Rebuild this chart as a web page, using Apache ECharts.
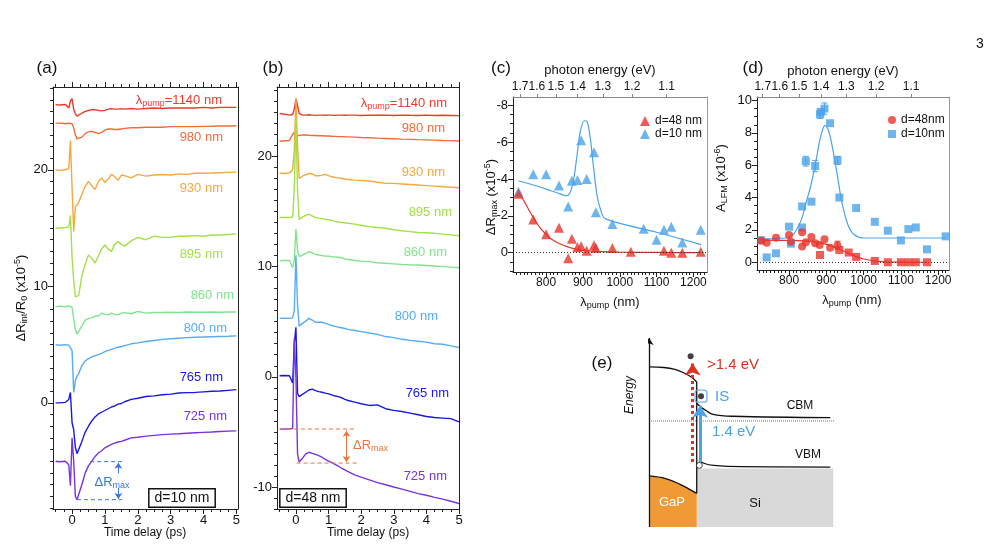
<!DOCTYPE html>
<html>
<head>
<meta charset="utf-8">
<script src="https://cdn.jsdelivr.net/npm/echarts@6.0.0/dist/echarts.min.js"></script>
<style>
  html, body { margin: 0; padding: 0; background: #fff; }
  #chart { width: 994px; height: 556px; }
</style>
</head>
<body>
<div id="chart"></div>
<script>
// ---- time delay traces, panels (a) and (b) ----
const T = [-0.5, -0.4, -0.2, -0.1, -0.05, 0, 0.05, 0.1, 0.15, 0.2, 0.3, 0.4, 0.5, 0.6, 0.7, 0.8, 0.9, 1.0, 1.1, 1.2,
  1.3, 1.4, 1.5, 1.6, 1.8, 2.0, 2.25, 2.5, 2.75, 3.0, 3.25, 3.5, 3.75, 4.0, 4.25, 4.5, 4.75, 5.0];

const A1140 = [25.6, 25.55, 25.6, 25.3, 25.9, 26.1, 25.2, 24.8, 24.6, 24.6, 24.85, 25.0, 25.1, 25.15, 25.15, 25.1, 25.05, 25.1, 25.2, 25.25,
  25.2, 25.2, 25.25, 25.2, 25.25, 25.2, 25.25, 25.3, 25.25, 25.3, 25.3, 25.3, 25.3, 25.35, 25.3, 25.35, 25.35, 25.35];
const A980 = [24.0, 24.0, 23.95, 24.0, 24.0, 23.95, 23.6, 23.0, 22.65, 22.57, 22.8, 23.1, 23.25, 23.3, 23.2, 23.1, 23.2, 23.4, 23.5, 23.5,
  23.45, 23.45, 23.5, 23.55, 23.6, 23.6, 23.65, 23.65, 23.65, 23.7, 23.7, 23.7, 23.7, 23.72, 23.73, 23.75, 23.75, 23.77];
const A930 = [20.0, 19.95, 20.0, 20.1, 22.5, 18.5, 14.7, 16.8, 16.9, 17.2, 17.9, 18.6, 19.0, 18.6, 18.3, 19.0, 19.3, 18.9, 19.2, 19.6,
  19.4, 19.1, 19.55, 19.5, 19.3, 19.6, 19.45, 19.55, 19.6, 19.55, 19.65, 19.6, 19.7, 19.7, 19.72, 19.75, 19.78, 19.8];
const A895 = [15.0, 15.0, 15.05, 15.1, 16.1, 12.5, 10.5, 9.1, 9.0, 9.2, 10.9, 11.9, 12.7, 12.4, 12.0, 12.6, 13.2, 13.55, 13.2, 13.0,
  13.6, 13.85, 13.6, 13.45, 13.9, 14.2, 14.0, 14.3, 14.2, 14.2, 14.3, 14.3, 14.35, 14.3, 14.4, 14.4, 14.45, 14.5];
const A860 = [8.25, 8.3, 8.25, 8.35, 8.4, 8.2, 7.2, 6.3, 5.9, 5.9, 6.6, 7.1, 7.25, 7.3, 7.45, 7.45, 7.7, 7.6, 7.55, 7.7,
  7.6, 7.55, 7.7, 7.75, 7.65, 7.85, 7.7, 7.75, 7.75, 7.78, 7.75, 7.8, 7.78, 7.78, 7.8, 7.78, 7.8, 7.8];
const A800 = [5.0, 4.95, 5.0, 4.95, 4.95, 4.5, 0.9, 1.9, 2.3, 2.5, 3.2, 3.6, 3.8, 3.95, 4.05, 4.15, 4.25, 4.4, 4.5, 4.6,
  4.7, 4.78, 4.84, 4.92, 5.07, 5.15, 5.27, 5.35, 5.45, 5.5, 5.55, 5.6, 5.63, 5.66, 5.68, 5.7, 5.72, 5.75];
const A765 = [0.0, 0.0, 0.05, 0.3, 0.9, -1.7, -2.3, -3.8, -4.35, -4.3, -3.3, -2.5, -2.0, -1.55, -1.2, -0.95, -0.8, -0.65, -0.5, -0.35,
  -0.25, -0.1, -0.05, 0.1, 0.3, 0.4, 0.55, 0.6, 0.7, 0.75, 0.85, 0.88, 0.9, 0.95, 1.0, 1.02, 1.08, 1.14];
const A725 = [-5.0, -5.05, -5.0, -5.3, -7.1, -3.0, -5.0, -8.0, -8.3, -8.3, -7.0, -6.0, -5.4, -5.0, -4.6, -4.3, -4.1, -3.85, -3.7, -3.55,
  -3.45, -3.35, -3.3, -3.2, -3.0, -2.95, -2.85, -2.78, -2.72, -2.68, -2.65, -2.6, -2.56, -2.53, -2.5, -2.45, -2.42, -2.4];

const B1140 = [23.9, 23.85, 23.75, 23.8, 24.3, 25.25, 24.6, 23.9, 23.75, 23.75, 23.75, 23.78, 23.75, 23.72, 23.75, 23.75, 23.73, 23.75, 23.75, 23.72,
  23.75, 23.75, 23.73, 23.75, 23.75, 23.72, 23.75, 23.73, 23.75, 23.72, 23.75, 23.73, 23.72, 23.75, 23.72, 23.73, 23.72, 23.7];
const B980 = [21.4, 21.4, 21.45, 22.0, 22.2, 21.9, 21.85, 21.9, 21.9, 21.95, 21.95, 21.92, 21.9, 21.9, 21.88, 21.87, 21.85, 21.85, 21.83, 21.82,
  21.8, 21.8, 21.78, 21.77, 21.75, 21.72, 21.7, 21.66, 21.63, 21.6, 21.57, 21.55, 21.52, 21.5, 21.48, 21.45, 21.43, 21.4];
const B930 = [18.5, 18.45, 18.5, 18.8, 20.5, 25.2, 21.0, 18.0, 18.1, 18.2, 18.35, 18.45, 18.4, 18.25, 18.25, 18.3, 18.37, 18.25, 18.15, 18.1,
  18.05, 18.0, 17.95, 17.9, 17.85, 17.82, 17.77, 17.65, 17.55, 17.55, 17.5, 17.45, 17.4, 17.35, 17.3, 17.25, 17.2, 17.16];
const B895 = [14.45, 14.45, 14.45, 14.5, 17.0, 23.5, 17.0, 14.25, 14.3, 14.5, 14.65, 14.75, 14.6, 14.45, 14.4, 14.35, 14.3, 14.25, 14.2, 14.1,
  14.05, 14.0, 13.98, 13.93, 13.85, 13.75, 13.63, 13.55, 13.48, 13.35, 13.25, 13.17, 13.1, 13.07, 13.02, 12.95, 12.88, 12.8];
const B860 = [10.5, 10.55, 10.55, 9.9, 10.6, 13.4, 11.5, 10.9, 10.95, 11.05, 11.2, 11.35, 11.25, 11.1, 11.05, 11.0, 10.95, 10.95, 10.9, 10.88,
  10.85, 10.8, 10.7, 10.65, 10.55, 10.5, 10.45, 10.35, 10.3, 10.25, 10.2, 10.17, 10.15, 10.1, 10.05, 10.0, 9.95, 9.9];
const B800 = [5.3, 5.32, 5.3, 5.35, 6.0, 11.0, 6.5, 4.6, 4.7, 4.85, 5.05, 5.3, 5.15, 4.95, 4.95, 4.95, 4.85, 4.75, 4.65, 4.58,
  4.5, 4.45, 4.38, 4.3, 4.2, 4.1, 3.97, 3.85, 3.65, 3.55, 3.4, 3.3, 3.22, 3.15, 3.0, 2.95, 2.8, 2.66];
const B765 = [0.1, 0.12, 0.1, -0.55, 3.0, 4.5, -1.5, -1.8, -1.7, -1.6, -1.4, -1.2, -1.12, -1.25, -1.35, -1.4, -1.48, -1.55, -1.65, -1.75,
  -1.8, -1.9, -2.05, -2.15, -2.3, -2.45, -2.6, -2.55, -2.9, -3.05, -3.15, -3.3, -3.45, -3.6, -3.7, -3.75, -3.8, -4.1];
const B725 = [-4.75, -4.75, -4.72, -4.7, 3.5, 0.0, -7.0, -7.75, -7.6, -7.4, -7.0, -6.85, -6.95, -7.05, -7.15, -7.3, -7.5, -7.65, -7.8, -7.95,
  -8.1, -8.3, -8.45, -8.6, -8.9, -9.1, -9.35, -9.6, -9.8, -10.0, -10.2, -10.4, -10.6, -10.75, -10.95, -11.1, -11.3, -11.5];

const PUMP_NM = ['1140', '980', '930', '895', '860', '800', '765', '725'];

// Delta R_max markers: [baseline, minimum]
const A_DRMAX = [-5.04, -8.3];
const B_DRMAX = [-4.74, -7.83];

// ---- panel (c): Delta R_max vs pump wavelength ----
const LAM_C48 = [725, 765, 800, 835, 860, 870, 885, 895, 910, 930, 935, 980, 1030, 1120, 1140, 1170, 1220];
const DR_C48 = [-3.2, -1.8, -1.0, -1.35, 0.3, -0.75, -0.3, -0.35, -0.1, -0.4, -0.25, -0.25, -0.05, -0.1, 0.0, 0.0, -0.05];
const LAM_C10 = [725, 765, 800, 835, 860, 870, 885, 895, 910, 930, 935, 980, 1065, 1100, 1120, 1140, 1170, 1220];
const DR_C10 = [-3.3, -4.25, -4.25, -3.65, -2.5, -3.9, -3.95, -6.1, -4.0, -5.45, -2.2, -1.55, -1.3, -0.7, -1.25, -1.4, -0.55, -1.25];
const FIT_C48_L = [725, 740, 755, 770, 785, 800, 811, 830, 847, 865, 883, 910, 937, 1000, 1100, 1220];
const FIT_C48_V = [-3.27, -2.8, -2.25, -1.75, -1.3, -1.0, -0.78, -0.55, -0.4, -0.27, -0.18, -0.11, -0.07, -0.03, -0.01, 0.0];
const FIT_C10_L = [725, 760, 800, 830, 856, 866, 875, 884, 893, 904, 911, 920, 929, 938, 947, 960, 1100, 1221];
const FIT_C10_V = [-3.89, -3.7, -3.45, -3.25, -3.09, -3.3, -4.0, -5.3, -6.6, -7.16, -7.13, -6.2, -4.6, -3.13, -2.4, -1.85, -1.11, -0.44];

// ---- panel (d): A_LFM vs pump wavelength ----
const LAM_D10 = [725, 740, 765, 800, 805, 835, 835, 845, 860, 870, 883, 885, 895, 910, 930, 935, 980, 1030, 1065, 1100, 1120, 1140, 1170, 1220];
const A_D10 = [1.37, 0.3, 0.55, 2.2, 1.15, 2.15, 3.45, 6.25, 3.75, 5.95, 9.15, 9.3, 9.5, 8.6, 6.3, 4.0, 3.35, 2.5, 1.95, 1.35, 2.05, 2.15, 0.8, 1.6];
const LAM_D48C = [725, 740, 765, 800, 805, 835, 835, 845, 860, 870, 882, 895, 910, 930];
const A_D48C = [1.33, 1.2, 1.52, 1.68, 1.27, 1.85, 0.97, 1.23, 1.56, 1.17, 1.07, 1.42, 0.9, 1.03];
const LAM_D48S = [883, 935, 960, 980, 1030, 1065, 1100, 1120, 1140, 1170];
const A_D48S = [0.45, 0.76, 0.6, 0.33, 0.08, 0.0, 0.0, 0.0, 0.0, 0.0];
const ERR_D10 = [[845, 5.95, 6.55], [870, 5.6, 6.3], [883, 8.9, 9.4], [895, 9.15, 9.85], [930, 6.05, 6.55]];
const ERR_D48 = [[930, 0.8, 1.3]];
const FIT_D48_L = [725, 800, 860, 900, 930, 960, 980, 1000, 1030, 1065, 1170];
const FIT_D48_V = [1.37, 1.35, 1.28, 1.1, 0.85, 0.55, 0.35, 0.2, 0.08, 0.01, 0.0];
const FIT_D10_L = [725, 790, 810, 822, 834, 847, 858, 870, 882, 890, 896, 903, 910, 918, 930, 940, 950, 960, 975, 1000, 1220];
const FIT_D10_V = [1.45, 1.5, 1.7, 2.1, 2.7, 3.8, 4.7, 6.0, 7.5, 8.2, 8.45, 8.3, 7.8, 6.9, 5.3, 3.9, 2.9, 2.2, 1.7, 1.5, 1.5];

const ENERGY_TICKS = [1.7, 1.6, 1.5, 1.4, 1.3, 1.2, 1.1];

// ---- panel (e): band diagram, schematic units 0..100 ----
const E_GAP_CB = [[0, 84.7], [8, 84.4], [14, 83.4], [19, 81.5], [23, 79.2], [25.8, 76.7]];
const E_SI_CB = [[25.8, 65.5], [28, 63.5], [31, 61.5], [34.6, 59.6], [45, 58.6], [98, 57.9]];
const E_SI_VB = [[27, 35.5], [30, 33.6], [35, 32.6], [50, 31.9], [98, 31.7]];
const E_GAP_VB = [[0, 27], [9, 25.6], [16.8, 22.6], [22.2, 19.8], [25.8, 17.8]];
const E_JUNCTION = [[25.8, 76.7], [25.8, 17.8]];
const E_FERMI = [[0, 56.1], [100, 56.1]];
const E_SI_FILL = [[25.8, 31], [99.6, 31]];
const E_AXIS = [[0, 0], [0, 100]];
const E_RED = [[23.6, 34.4], [23.6, 86.5]];
const E_BLUE = [[27.6, 34.4], [27.6, 64.2]];
const E_ELECTRONS = [[22.5, 90.3], [28.1, 69.2]];
const E_HOLE = [[27.2, 32.6]];

const FONT = '"Liberation Sans", Arial, Helvetica, sans-serif';
const PUMP_COLORS = ['#ee3a2d', '#f26b3a', '#f6a83e', '#a4e04a', '#80e48c', '#58acf2', '#1818e0', '#7a33dc'];
const RED = '#e8332a', BLUE = '#4aa3ea';

function steps(a, b, s) {
  const out = [];
  for (let i = 0; a + i * s <= b + 1e-9; i++) out.push(+(a + i * s).toFixed(4));
  return out;
}

const xAxis = [], yAxis = [];
function ax(list, o) {
  list.push(Object.assign({
    type: 'value', splitLine: { show: false }, axisLine: { show: false, onZero: false },
    axisTick: { show: false }, axisLabel: { show: false }
  }, o));
  return list.length - 1;
}
const plain = v => String(v);
const lbl = (vals, size, extra) => Object.assign({
  show: true, customValues: vals, fontSize: size, color: '#111', fontFamily: FONT, margin: 5, interval: 0,
  formatter: plain, showMinLabel: true, showMaxLabel: true, hideOverlap: false
}, extra || {});
const tk = (vals, len, c) => ({ show: true, customValues: vals, length: len, lineStyle: { color: c || '#222', width: 1 } });
const line = c => ({ show: true, onZero: false, lineStyle: { color: c, width: 1 } });

function frame(g, xr, yr, f) {
  const base = { gridIndex: g, min: xr[0], max: xr[1] };
  const sz = f.labelSize;
  const xi = ax(xAxis, Object.assign({}, base, { position: 'bottom', axisLine: line('#222'), axisTick: tk(f.xMajor, 5), axisLabel: lbl(f.xMajor, sz) }));
  ax(xAxis, Object.assign({}, base, { position: 'bottom', axisTick: tk(f.xMinor, 3) }));
  ax(xAxis, Object.assign({}, base, { position: 'top', axisLine: line(f.topColor), axisTick: tk(f.topMajor, f.topLen, f.topColor),
    axisLabel: f.topFormatter ? lbl(f.topMajor, sz, { formatter: f.topFormatter, margin: 4 }) : { show: false } }));
  if (f.topMinor) ax(xAxis, Object.assign({}, base, { position: 'top', axisTick: tk(f.topMinor, 3, f.topColor) }));
  const ybase = { gridIndex: g, min: yr[0], max: yr[1], inverse: !!f.yInverse };
  const yi = ax(yAxis, Object.assign({}, ybase, { position: 'left', axisLine: line('#222'), axisTick: tk(f.yMajor, 5), axisLabel: lbl(f.yMajor, 13) }));
  ax(yAxis, Object.assign({}, ybase, { position: 'left', axisTick: tk(f.yMinor, 3) }));
  ax(yAxis, Object.assign({}, ybase, { position: 'right', axisLine: line(f.rightColor) }));
  return { xi, yi };
}

const grid = [
  { left: 53, top: 87, width: 185, height: 422 },
  { left: 277, top: 87, width: 182, height: 422 },
  { left: 513, top: 97, width: 194, height: 175 },
  { left: 757, top: 97, width: 192, height: 173 },
  { left: 649, top: 338, width: 185, height: 189 }
];

const fa = frame(0, [-0.58, 5.05], [-9.1, 27.1], {
  xMajor: steps(0, 5, 1), xMinor: steps(-0.5, 5, 0.25), topMajor: steps(0, 5, 1), topMinor: steps(-0.5, 5, 0.25), topLen: 5,
  topColor: '#222', rightColor: '#222', yMajor: [0, 10, 20], yMinor: steps(-9, 27, 1), labelSize: 13
});
const fb = frame(1, [-0.58, 5.0], [-12, 26.3], {
  xMajor: steps(0, 5, 1), xMinor: steps(-0.5, 5, 0.25), topMajor: steps(0, 5, 1), topMinor: steps(-0.5, 5, 0.25), topLen: 5,
  topColor: '#222', rightColor: '#222', yMajor: [-10, 0, 10, 20], yMinor: steps(-12, 26, 1), labelSize: 13
});
const energyPos = ENERGY_TICKS.map(e => 1240 / e);
const eFmt = v => (1240 / v).toFixed(1);
const fc = frame(2, [710, 1237], [-8.45, 1.05], {
  xMajor: steps(800, 1200, 100), xMinor: steps(720, 1230, 10), topMajor: energyPos, topLen: 3, topFormatter: eFmt,
  topColor: '#888', rightColor: '#999', yMajor: [-8, -6, -4, -2, 0], yMinor: steps(-8, 1, 0.5), yInverse: true, labelSize: 12
});
const fd = frame(3, [714, 1229], [-0.48, 10.22], {
  xMajor: steps(800, 1200, 100), xMinor: steps(720, 1220, 10), topMajor: energyPos, topLen: 3, topFormatter: eFmt,
  topColor: '#888', rightColor: '#999', yMajor: [0, 2, 4, 6, 8, 10], yMinor: steps(0, 10, 0.5), labelSize: 12
});
const exi = ax(xAxis, { gridIndex: 4, min: 0, max: 100 });
const eyi = ax(yAxis, { gridIndex: 4, min: 0, max: 100 });

const series = [];
const on = f => ({ xAxisIndex: f.xi, yAxisIndex: f.yi, silent: true });

function traces(f, sets) {
  sets.forEach((arr, k) => series.push(Object.assign(on(f), {
    type: 'line', data: T.map((t, i) => [t, arr[i]]), symbol: 'none',
    lineStyle: { width: 1.4, color: PUMP_COLORS[k] }, z: 2
  })));
}
traces(fa, [A1140, A980, A930, A895, A860, A800, A765, A725]);
traces(fb, [B1140, B980, B930, B895, B860, B800, B765, B725]);

function dashed(f, pts, color) {
  series.push(Object.assign(on(f), { type: 'line', data: pts, symbol: 'none', lineStyle: { width: 1, color, type: [4, 3] }, z: 3 }));
}
function arrows(f, segs, color, symbols) {
  series.push(Object.assign(on(f), {
    type: 'lines', coordinateSystem: 'cartesian2d', symbol: symbols, symbolSize: 6,
    lineStyle: { color, width: 1, opacity: 1 }, data: segs.map(s => ({ coords: s })), z: 3
  }));
}
const ACOL = '#3a74e6', BCOL = '#f07236';
dashed(fa, [[0.55, A_DRMAX[0]], [1.52, A_DRMAX[0]]], ACOL);
dashed(fa, [[0.15, A_DRMAX[1]], [1.52, A_DRMAX[1]]], ACOL);
arrows(fa, [[[1.41, -6.05], [1.41, A_DRMAX[0] - 0.1]], [[1.41, -7.3], [1.41, A_DRMAX[1] + 0.05]]], ACOL, ['none', 'arrow']);
dashed(fb, [[-0.49, B_DRMAX[0]], [1.81, B_DRMAX[0]]], BCOL);
dashed(fb, [[0.02, B_DRMAX[1]], [1.91, B_DRMAX[1]]], BCOL);
arrows(fb, [[[1.55, B_DRMAX[0] - 0.15], [1.55, B_DRMAX[1] + 0.1]]], BCOL, ['arrow', 'arrow']);

// panel (c)
const zip = (a, b) => a.map((v, i) => [v, b[i]]);
series.push(Object.assign(on(fc), { type: 'line', name: 'fit48c', data: zip(FIT_C48_L, FIT_C48_V), smooth: 0.3, symbol: 'none',
  lineStyle: { width: 1.2, color: RED }, z: 2,
  markLine: { silent: true, symbol: 'none', label: { show: false }, lineStyle: { type: [1, 2], color: '#333', width: 1 }, data: [{ yAxis: 0 }] } }));
series.push(Object.assign(on(fc), { type: 'line', name: 'fit10c', data: zip(FIT_C10_L, FIT_C10_V), smooth: 0.3, symbol: 'none',
  lineStyle: { width: 1.2, color: BLUE }, z: 2 }));
series.push(Object.assign(on(fc), { type: 'scatter', name: 'd=48 nm', data: zip(LAM_C48, DR_C48), symbol: 'triangle', symbolSize: 10,
  itemStyle: { color: RED }, z: 4 }));
series.push(Object.assign(on(fc), { type: 'scatter', name: 'd=10 nm', data: zip(LAM_C10, DR_C10), symbol: 'triangle', symbolSize: 10,
  itemStyle: { color: BLUE }, z: 3 }));

// panel (d)
function errBars(data, color) {
  series.push(Object.assign(on(fd), {
    type: 'custom', data, encode: { x: 0, y: [1, 2] }, z: 3,
    renderItem: (params, api) => {
      const lo = api.coord([api.value(0), api.value(1)]);
      const hi = api.coord([api.value(0), api.value(2)]);
      const st = { stroke: color, lineWidth: 1 };
      return { type: 'group', children: [
        { type: 'line', shape: { x1: lo[0], y1: lo[1], x2: hi[0], y2: hi[1] }, style: st },
        { type: 'line', shape: { x1: lo[0] - 3, y1: lo[1], x2: lo[0] + 3, y2: lo[1] }, style: st },
        { type: 'line', shape: { x1: hi[0] - 3, y1: hi[1], x2: hi[0] + 3, y2: hi[1] }, style: st }
      ] };
    }
  }));
}
series.push(Object.assign(on(fd), { type: 'line', name: 'fit10d', data: zip(FIT_D10_L, FIT_D10_V), smooth: 0.3, symbol: 'none',
  lineStyle: { width: 1.2, color: BLUE }, z: 2,
  markLine: { silent: true, symbol: 'none', label: { show: false }, lineStyle: { type: [1, 2], color: '#333', width: 1 }, data: [{ yAxis: 0 }] } }));
series.push(Object.assign(on(fd), { type: 'line', name: 'fit48d', data: zip(FIT_D48_L, FIT_D48_V), smooth: 0.3, symbol: 'none',
  lineStyle: { width: 1.2, color: RED }, z: 2 }));
errBars(ERR_D10, BLUE);
errBars(ERR_D48, RED);
series.push(Object.assign(on(fd), { type: 'scatter', name: 'd=10nm', data: zip(LAM_D10, A_D10), symbol: 'rect', symbolSize: 8,
  itemStyle: { color: BLUE }, z: 4 }));
series.push(Object.assign(on(fd), { type: 'scatter', name: 'd=48nm', data: zip(LAM_D48C, A_D48C), symbol: 'circle', symbolSize: 8,
  itemStyle: { color: RED }, z: 5 }));
series.push(Object.assign(on(fd), { type: 'scatter', name: 'd=48nm', data: zip(LAM_D48S, A_D48S), symbol: 'rect', symbolSize: 8,
  itemStyle: { color: RED }, z: 5 }));

// panel (e)
const fe = { xi: exi, yi: eyi };
const eLine = (data, style, extra) => series.push(Object.assign(on(fe), { type: 'line', data, symbol: 'none', lineStyle: style }, extra || {}));
eLine(E_SI_FILL, { width: 0 }, { areaStyle: { color: '#d9d9d9', opacity: 1 }, z: 1 });
eLine(E_GAP_VB, { width: 1.3, color: '#111' }, { smooth: 0.4, areaStyle: { color: '#f09a35', opacity: 1 }, z: 2 });
eLine(E_GAP_CB, { width: 1.3, color: '#111' }, { smooth: 0.4, z: 2 });
eLine(E_SI_CB, { width: 1.3, color: '#111' }, { smooth: 0.4, z: 2 });
eLine(E_SI_VB, { width: 1.3, color: '#111' }, { smooth: 0.4, z: 2 });
eLine(E_JUNCTION, { width: 1.3, color: '#111' }, { z: 2 });
eLine(E_FERMI, { width: 1, color: '#777', type: [1, 1] }, { z: 2 });
series.push(Object.assign(on(fe), { type: 'lines', coordinateSystem: 'cartesian2d', symbol: ['none', 'arrow'], symbolSize: 7,
  lineStyle: { color: '#111', width: 1.3, opacity: 1 }, data: [{ coords: E_AXIS }], z: 3 }));
series.push(Object.assign(on(fe), { type: 'lines', coordinateSystem: 'cartesian2d', symbol: ['none', 'arrow'], symbolSize: 12,
  lineStyle: { color: '#e0301e', width: 3, type: [3, 3], opacity: 1 }, data: [{ coords: E_RED }], z: 3 }));
series.push(Object.assign(on(fe), { type: 'lines', coordinateSystem: 'cartesian2d', symbol: ['none', 'arrow'], symbolSize: 12,
  lineStyle: { color: BLUE, width: 3, opacity: 1 }, data: [{ coords: E_BLUE }], z: 3 }));
series.push(Object.assign(on(fe), { type: 'scatter', data: [E_ELECTRONS[1]], symbol: 'roundRect', symbolSize: 12,
  itemStyle: { color: 'rgba(0,0,0,0)', borderColor: BLUE, borderWidth: 1.3 }, z: 4 }));
series.push(Object.assign(on(fe), { type: 'scatter', data: E_ELECTRONS, symbol: 'circle', symbolSize: 6, itemStyle: { color: '#111' }, z: 5 }));
series.push(Object.assign(on(fe), { type: 'scatter', data: E_HOLE, symbol: 'circle', symbolSize: 6,
  itemStyle: { color: '#fff', borderColor: '#111', borderWidth: 1 }, z: 5 }));

// ---- text ----
function rich(size, color) {
  const b = { fontSize: size, fill: color, fontFamily: FONT };
  const small = Math.round(size * 0.7);
  return {
    n: Object.assign({}, b, { lineHeight: size + 3, verticalAlign: 'middle' }),
    s: Object.assign({}, b, { fontSize: small, lineHeight: 5, verticalAlign: 'bottom' }),
    p: Object.assign({}, b, { fontSize: small, lineHeight: 7, verticalAlign: 'top' })
  };
}
function txt(x, y, text, o, el) {
  const style = Object.assign({ text, fill: '#111', fontSize: 13, fontFamily: FONT, align: 'left', verticalAlign: 'middle' }, o || {});
  return Object.assign({ type: 'text', x, y, silent: true, z: 100, style }, el || {});
}
function rtxt(x, y, text, size, color, align, el) {
  return txt(x, y, text, { rich: rich(size, color), align: align || 'left' }, el);
}

const graphic = [];
// panel letters and page number
[['(a)', 47], ['(b)', 273], ['(c)', 501], ['(d)', 753]].forEach(([t, x]) =>
  graphic.push(txt(x, 68, t, { fontSize: 17, align: 'center' })));
graphic.push(txt(602, 363, '(e)', { fontSize: 17, align: 'center' }));
graphic.push(txt(980, 44, '3', { fontSize: 14, align: 'center' }));

// trace labels
const A_LABEL_POS = [[222, 100], [223, 137], [223, 188], [223, 254], [234, 295], [227, 328], [223, 377], [227, 416]];
const B_LABEL_POS = [[447, 103], [445, 128], [445, 172], [452, 212], [447, 252], [438, 316], [449, 393], [447, 476]];
function traceLabels(pos) {
  pos.forEach(([x, y], k) => {
    if (k === 0) graphic.push(rtxt(x, y, '{n|λ}{s|pump}{n|=1140 nm}', 13, PUMP_COLORS[0], 'right'));
    else graphic.push(txt(x, y, PUMP_NM[k] + ' nm', { fill: PUMP_COLORS[k], align: 'right' }));
  });
}
traceLabels(A_LABEL_POS);
traceLabels(B_LABEL_POS);

graphic.push(rtxt(112, 482, '{n|ΔR}{s|max}', 13, ACOL, 'center'));
graphic.push(rtxt(353, 445, '{n|ΔR}{s|max}', 13, BCOL, 'left'));
graphic.push(txt(182, 498, 'd=10 nm', { fontSize: 14, align: 'center', padding: [2, 5, 1, 5], borderColor: '#111', borderWidth: 1.5, backgroundColor: '#fff' }));
graphic.push(txt(313, 498, 'd=48 nm', { fontSize: 14, align: 'center', padding: [2, 5, 1, 5], borderColor: '#111', borderWidth: 1.5, backgroundColor: '#fff' }));

// axis titles
graphic.push(rtxt(21, 298, '{n|ΔR}{s|int}{n|/R}{s|0}{n| (x10}{p|-5}{n|)}', 13, '#111', 'center', { rotation: Math.PI / 2 }));
graphic.push(txt(145, 533, 'Time delay (ps)', { fontSize: 12, align: 'center' }));
graphic.push(txt(368, 533, 'Time delay (ps)', { fontSize: 12, align: 'center' }));
graphic.push(rtxt(491, 197, '{n|ΔR}{s|max}{n| (x10}{p|-5}{n|)}', 13, '#111', 'center', { rotation: Math.PI / 2 }));
graphic.push(rtxt(721, 178, '{n|A}{s|LFM}{n| (x10}{p|-6}{n|)}', 13, '#111', 'center', { rotation: Math.PI / 2 }));
graphic.push(rtxt(610, 302, '{n|λ}{s|pump}{n| (nm)}', 13, '#111', 'center'));
graphic.push(rtxt(852, 300, '{n|λ}{s|pump}{n| (nm)}', 13, '#111', 'center'));
graphic.push(txt(600, 70, 'photon energy (eV)', { align: 'center' }));
graphic.push(txt(843, 71, 'photon energy (eV)', { align: 'center' }));

// panel (e) text
graphic.push(txt(630, 395, 'Energy', { fontSize: 12, fontStyle: 'italic', align: 'center' }, { rotation: Math.PI / 2 }));
graphic.push(txt(707, 365, '>1.4 eV', { fontSize: 15, fill: '#e0301e' }));
graphic.push(txt(715, 397, 'IS', { fontSize: 15, fill: BLUE }));
graphic.push(txt(712, 432, '1.4 eV', { fontSize: 15, fill: BLUE }));
graphic.push(txt(800, 406, 'CBM', { fontSize: 12, align: 'center' }));
graphic.push(txt(808, 455, 'VBM', { fontSize: 12, align: 'center' }));
graphic.push(txt(672, 502, 'GaP', { fontSize: 13, fill: '#fff', align: 'center' }));
graphic.push(txt(755, 503, 'Si', { fontSize: 13, align: 'center' }));

const legendText = { fontSize: 12, color: '#111', fontFamily: FONT, lineHeight: 12 };
const option = {
  animation: false,
  backgroundColor: '#fff',
  grid, xAxis, yAxis, series, graphic,
  legend: [
    { left: 635, top: 110, orient: 'vertical', itemWidth: 10, itemHeight: 10, itemGap: 1, textStyle: legendText,
      data: [{ name: 'd=48 nm', icon: 'triangle' }, { name: 'd=10 nm', icon: 'triangle' }], selectedMode: false },
    { left: 883, top: 109, orient: 'vertical', itemWidth: 8, itemHeight: 8, itemGap: 2, textStyle: legendText,
      data: [{ name: 'd=48nm', icon: 'circle' }, { name: 'd=10nm', icon: 'rect' }], selectedMode: false }
  ]
};

const chart = echarts.init(document.getElementById('chart'));
chart.setOption(option);
</script>
</body>
</html>
